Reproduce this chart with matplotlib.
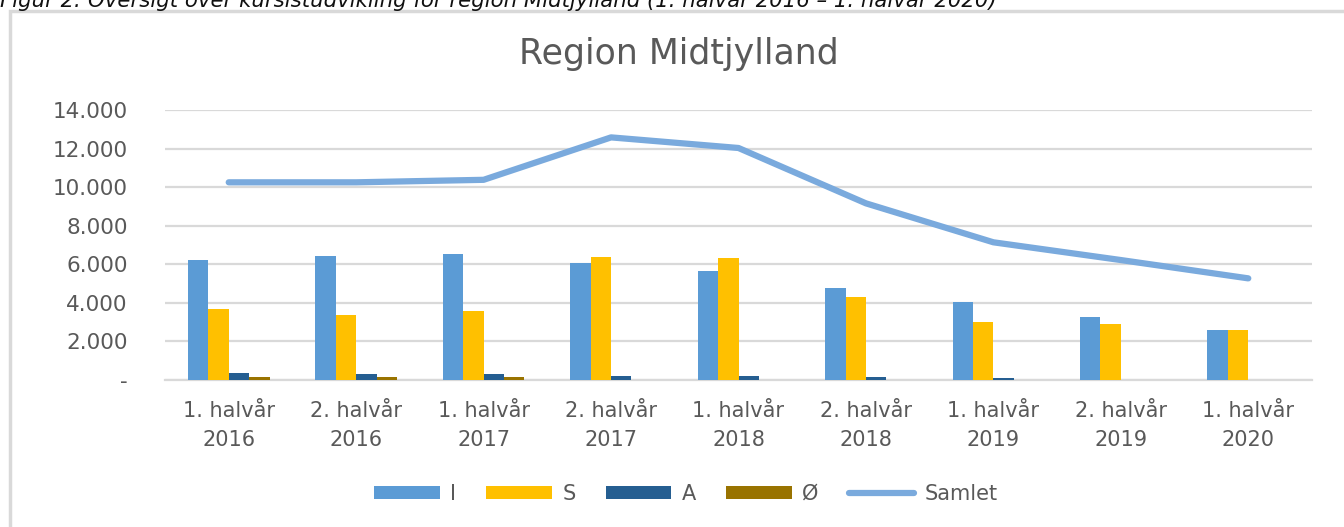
import matplotlib.pyplot as plt
import numpy as np
from matplotlib.patches import Rectangle
from matplotlib.ticker import FuncFormatter

# Data
periods = ["1. halvår\n2016", "2. halvår\n2016", "1. halvår\n2017", "2. halvår\n2017",
           "1. halvår\n2018", "2. halvår\n2018", "1. halvår\n2019", "2. halvår\n2019",
           "1. halvår\n2020"]
values_i = [6200, 6450, 6520, 6050, 5650, 4790, 4060, 3250, 2590]
values_s = [3680, 3390, 3600, 6400, 6320, 4320, 2990, 2920, 2590]
values_a = [380, 330, 330, 190, 190, 140, 100, 0, 0]
values_oe = [150, 150, 150, 0, 0, 0, 0, 0, 0]
values_total = [10250, 10250, 10380, 12580, 12030, 9160, 7140, 6220, 5270]

text_col = "#595959"
grid_col = "#d9d9d9"

plt.rcParams["font.family"] = ["DejaVu Sans"]

fig = plt.figure(figsize=(13.44, 5.27), dpi=100)

# chart frame (runs past the right and bottom edges like in the screenshot)
fig.patches.append(Rectangle((10 / 1344, -0.05), 1.1, 1 - 11 / 527 + 0.05,
                             transform=fig.transFigure, fill=False,
                             edgecolor=grid_col, lw=2.5))

# caption, its upper half is cut off at the top edge as in the screenshot
fig.text(0.0, 1 - 7 / 527, "Figur 2: Oversigt over kursistudvikling for region Midtjylland "
         "(1. halvår 2016 – 1. halvår 2020)", fontsize=15.3, style="italic",
         color="#111111", va="baseline", ha="left")

ax = fig.add_axes([165 / 1344, 1 - 380 / 527, (1312 - 165) / 1344, 270 / 527])

x = np.arange(len(periods))
w = 0.16
ax.bar(x - 1.5 * w, values_i, w, color="#5B9BD5", label="I", zorder=3)
ax.bar(x - 0.5 * w, values_s, w, color="#FFC000", label="S", zorder=3)
ax.bar(x + 0.5 * w, values_a, w, color="#255E91", label="A", zorder=3)
ax.bar(x + 1.5 * w, values_oe, w, color="#997300", label="Ø", zorder=3)
ax.plot(x, values_total, color="#7AAADD", lw=4.5, solid_capstyle="round",
        label="Samlet", zorder=4)

ax.set_xlim(-0.5, len(periods) - 0.5)
ax.set_ylim(0, 14000)
ax.set_yticks(np.arange(0, 14001, 2000))
ax.yaxis.set_major_formatter(FuncFormatter(
    lambda v, p: "-" if v == 0 else f"{int(v):,}".replace(",", ".")))
ax.set_xticks(x)
ax.set_xticklabels(periods, linespacing=1.55)
ax.tick_params(axis="y", length=0, pad=27, labelsize=15.5, labelcolor=text_col)
ax.tick_params(axis="x", length=0, pad=15, labelsize=15, labelcolor=text_col)
ax.grid(axis="y", color=grid_col, lw=1.6, zorder=0)
for s in ["top", "right", "left"]:
    ax.spines[s].set_visible(False)
ax.spines["bottom"].set_color(grid_col)
ax.spines["bottom"].set_linewidth(1.6)

fig.text(679 / 1344, 1 - 64 / 527, "Region Midtjylland", fontsize=25,
         color=text_col, ha="center", va="baseline")

handles, labels = ax.get_legend_handles_labels()
order = [1, 2, 3, 4, 0]
fig.legend([handles[i] for i in order], [labels[i] for i in order],
           loc="center", bbox_to_anchor=(686 / 1344, 1 - 494 / 527), ncol=5,
           frameon=False, fontsize=15, labelcolor=text_col, handlelength=3.15,
           handleheight=0.58, handletextpad=0.5, columnspacing=1.45)

fig.savefig("out.png", dpi=100)
